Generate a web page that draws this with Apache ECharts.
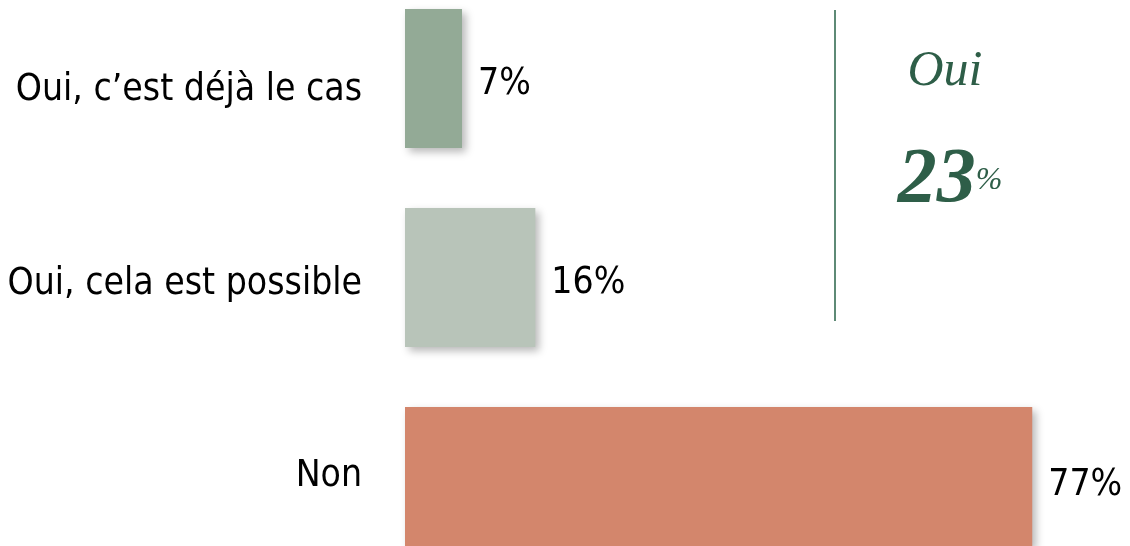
<!DOCTYPE html>
<html><head><meta charset="utf-8">
<script src="https://cdn.jsdelivr.net/npm/echarts@6/dist/echarts.min.js"></script>
<style>html,body{margin:0;padding:0;background:#fff}#c{width:1130px;height:546px}</style>
</head><body><div id="c"></div>
<script>
const categories = ["Oui, c’est déjà le cas", "Oui, cela est possible", "Non"];
const values = [7, 16, 77];
const barColors = ["#93aa96", "#b8c4b9", "#d3866c"];
const summaryLabel = "Oui";
const summaryValue = "23";

const FONT = '"DejaVu Sans Condensed", "DejaVu Sans", sans-serif';
const SIZE = 37;
const catShift = [12, 6.5, -0.5];
const valShift = [5.5, 6, 8.5];
const rich = {};
catShift.forEach((d, i) => {
  rich['t' + i] = {fontFamily: FONT, fontSize: SIZE, color: '#000',
    padding: d >= 0 ? [2 * d, 0, 0, 0] : [0, 0, -2 * d, 0]};
});

const chart = echarts.init(document.getElementById('c'));
chart.setOption({
  animation: false,
  grid: {left: 405, right: 0, top: 78.5, height: 398, containLabel: false},
  xAxis: {type: 'value', min: 0, max: 89, show: false},
  yAxis: {
    type: 'category', inverse: true, data: categories, boundaryGap: false,
    axisLine: {show: false}, axisTick: {show: false}, splitLine: {show: false},
    axisLabel: {color: '#000', fontFamily: FONT, fontSize: SIZE, margin: 43,
      formatter: (v, i) => '{t' + i + '|' + v + '}', rich: rich}
  },
  series: [{
    type: 'bar', barWidth: 139, clip: false,
    data: values.map((v, i) => ({value: v, itemStyle: {color: barColors[i]},
      label: {offset: [0, valShift[i]]}})),
    itemStyle: {shadowBlur: 8, shadowOffsetX: 4, shadowOffsetY: 4, shadowColor: 'rgba(0,0,0,0.28)'},
    label: {show: true, position: 'right', distance: 16, color: '#000', fontFamily: FONT, fontSize: SIZE, formatter: '{c}%'}
  }],
  graphic: [
    {type: 'line', shape: {x1: 835, y1: 10, x2: 835, y2: 321}, style: {stroke: '#5e8a76', lineWidth: 2}},
    {type: 'text', x: 945, y: 72, style: {text: summaryLabel, fill: '#2e5e48', font: 'italic 50px "Liberation Serif"', textAlign: 'center', textVerticalAlign: 'middle'}},
    {type: 'text', x: 950, y: 220, style: {
      text: '{a|' + summaryValue + '}{b|%}', textAlign: 'center', textVerticalAlign: 'bottom',
      rich: {
        a: {fill: '#2e5e48', font: 'italic bold 78px "Liberation Serif"'},
        b: {fill: '#2e5e48', font: 'italic 32px "Liberation Serif"'}
      }
    }}
  ]
});
</script></body></html>
